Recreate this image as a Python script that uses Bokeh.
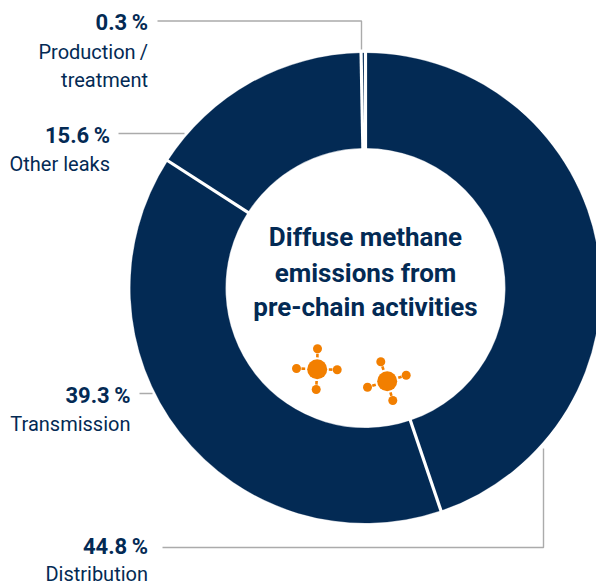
import math
from bokeh.embed import file_html
from bokeh.resources import INLINE
from bokeh.plotting import figure
from bokeh.core.properties import value

# Share of diffuse methane emissions per activity, clockwise from twelve o'clock
categories = ["Distribution", "Transmission", "Other leaks", "Production /\ntreatment"]
shares = [44.8, 39.3, 15.6, 0.3]
title_lines = ["Diffuse methane", "emissions from", "pre-chain activities"]

NAVY = "#032a54"
ORANGE = "#f27f00"
GREY = "#ababab"
W, H = 596, 586
CX, CY = 365, 287.5
R_OUT, R_IN = 235, 140
FONT = "Roboto"


def Y(y):
    """Page-style y (downwards from the top edge) to plot units."""
    return H - y


p = figure(width=W, height=H, x_range=(0, W), y_range=(0, H), output_backend="svg",
           toolbar_location=None, min_border=0, outline_line_color=None,
           background_fill_color="white", border_fill_color="white")
p.xaxis.visible = False
p.yaxis.visible = False
p.xgrid.visible = False
p.ygrid.visible = False

# Ring segments
total = sum(shares)
edges = [0.0]
for s in shares:
    edges.append(edges[-1] + s / total * 2 * math.pi)
starts = [math.pi / 2 - e for e in edges[:-1]]
ends = [math.pi / 2 - e for e in edges[1:]]
p.annular_wedge(x=CX, y=Y(CY), inner_radius=R_IN, outer_radius=R_OUT,
                start_angle=starts, end_angle=ends, direction="clock",
                fill_color=NAVY, line_color=NAVY, line_width=0.3)

# White separators on the segment boundaries
a = starts
p.segment(x0=[CX + (R_IN - 2) * math.cos(t) for t in a], y0=[Y(CY) + (R_IN - 2) * math.sin(t) for t in a],
          x1=[CX + (R_OUT + 2) * math.cos(t) for t in a], y1=[Y(CY) + (R_OUT + 2) * math.sin(t) for t in a],
          line_color="white", line_width=3.2)

# Leader lines
leaders = [
    ([162, 543, 543], [547, 547, 448]),
    ([139, 152], [393, 393]),
    ([118, 184], [133, 133]),
    ([157, 361, 361], [20.5, 20.5, 49]),
]
for xs, ys in leaders:
    p.line(xs, [Y(v) for v in ys], line_color=GREY, line_width=1.4)

# Labels: value in bold, name below, right-aligned beside the leader
anchors = [(147.5, 546, [573]), (130, 395, [423.5]), (109.5, 134.5, [163.5]), (147.5, 22, [51, 79])]
for share, name, (right, mid, name_mids) in zip(shares, categories, anchors):
    p.text([right], [Y(mid)], text=[f"{share}\u2009%"], text_font=value(FONT), text_font_style="bold",
           text_font_size="22px", text_color=NAVY, text_align="right", text_baseline="alphabetic")
    for part, b in zip(name.split("\n"), name_mids):
        p.text([right], [Y(b)], text=[part.replace(" /", "\u2009/")], text_font=value(FONT),
               text_font_size="20px", text_color=NAVY, text_align="right", text_baseline="alphabetic")

# Centre title
for line, b in zip(title_lines, [236, 272, 306]):
    p.text([365], [Y(b)], text=[line], text_font=value(FONT), text_font_style="bold",
           text_font_size="26px", text_color=NAVY, text_align="center", text_baseline="alphabetic")

# Methane molecule icons
molecules = [
    ((316.7, 368.7), [(317, 348.3), (336.7, 369.3), (315.7, 389), (296, 368)]),
    ((386.7, 380.7), [(380.3, 361.3), (405.7, 374.7), (392.3, 400), (367, 386.7)]),
]
for (mx, my), atoms in molecules:
    for ax, ay in atoms:
        p.segment(x0=[mx + (ax - mx) * 0.58], y0=[Y(my + (ay - my) * 0.58)],
                  x1=[mx + (ax - mx) * 0.76], y1=[Y(my + (ay - my) * 0.76)],
                  line_color=ORANGE, line_width=2.6)
    p.circle(x=[mx], y=[Y(my)], radius=10, fill_color=ORANGE, line_color=None)
    p.circle(x=[q[0] for q in atoms], y=[Y(q[1]) for q in atoms], radius=4.5,
             fill_color=ORANGE, line_color=None)

open("out.html", "w").write(file_html(p, INLINE))
